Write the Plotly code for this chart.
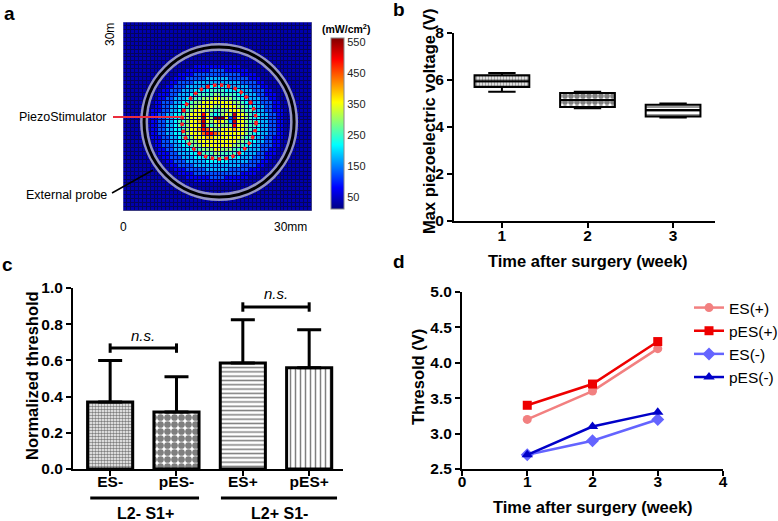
import plotly.graph_objects as go

FONT = "Liberation Sans, Arial, sans-serif"
W, H = 778, 521

# ---------------- Panel a: intensity map (48 x 48 cells, level codes)
HEAT_ROWS = [
    "000000000000000000000000000000000000000000000000",
    "000000000000000000000000000000000000000000000000",
    "000000000000000000000000000000000000000000000000",
    "000000000000000000000000000000000000000000000000",
    "000000000000000000000000000000000000000000000000",
    "000000000000000000000000000000000000000000000000",
    "000000000000000000000000000000000000000000000000",
    "000000000000000000000000000000000000000000000000",
    "000000000000000000000000000000000000000000000000",
    "000000000000000000000000000000000000000000000000",
    "000000000000000000000000000000000000000000000000",
    "000000000000000000111111111111000000000000000000",
    "000000000000000011111122221111110000000000000000",
    "000000000000001111222222222222111100000000000000",
    "000000000000011122222333333222221110000000000000",
    "000000000000112222333333333333222211000000000000",
    "000000000001122233333444444333332221100000000000",
    "000000000011222333444455554444333222110000000000",
    "000000000111223334455556655554433322111000000000",
    "000000000112233344556667766655443332211000000000",
    "000000001122233445667777777766544332221100000000",
    "000000001122334456677776677776654433221100000000",
    "000000011122334556777665566777655433221110000000",
    "00000001122334456777a7545676b7765443322110000000",
    "00000001122334456777b76ccc72b7765443322110000000",
    "00000001122334556778b7678763b7765543322110000000",
    "00000001122334556777b6567666a7765543322110000000",
    "00000001122334456778a976677787765443322110000000",
    "000000011223344567779aa9877777765443322110000000",
    "000000011122334556777887777777655433221110000000",
    "000000001122334456677777777776654433221100000000",
    "000000001122233445667777777766544332221100000000",
    "000000000112233344556667766655443332211000000000",
    "000000000111223334455556655554433322111000000000",
    "000000000011222333444455554444333222110000000000",
    "000000000001122233333444444333332221100000000000",
    "000000000000112222333333333333222211000000000000",
    "000000000000011122222333333222221110000000000000",
    "000000000000001111222222222222111100000000000000",
    "000000000000000011111122221111110000000000000000",
    "000000000000000000111111111111000000000000000000",
    "000000000000000000000000000000000000000000000000",
    "000000000000000000000000000000000000000000000000",
    "000000000000000000000000000000000000000000000000",
    "000000000000000000000000000000000000000000000000",
    "000000000000000000000000000000000000000000000000",
    "000000000000000000000000000000000000000000000000",
    "000000000000000000000000000000000000000000000000",
]
LEVEL_VALUES = {"0": 35, "1": 75, "2": 125, "3": 175, "4": 215, "5": 255, "6": 300,
                "7": 350, "8": 395, "9": 440, "a": 490, "b": 525, "c": 555}
CBAR_TICKS = [50, 150, 250, 350, 450, 550]
Z_MIN, Z_MAX = 11, 563

# ---------------- Panel b: box plot of max piezo voltage
B_WEEKS = [1, 2, 3]
B_Q1 = [5.70, 4.85, 4.45]
B_MED = [5.95, 5.15, 4.72]
B_Q3 = [6.20, 5.45, 4.95]
B_LO = [5.50, 4.80, 4.40]
B_HI = [6.30, 5.50, 5.00]

# ---------------- Panel c: normalized threshold bars
C_CATS = ["ES-", "pES-", "ES+", "pES+"]
C_MEAN = [0.37, 0.315, 0.585, 0.56]
C_SD = [0.23, 0.195, 0.24, 0.21]
C_SD_LOWER = [0, 0, 0, 0]
C_GROUPS = ["L2- S1+", "L2+ S1-"]
C_BRACKET_Y = [0.668, 0.895]

# ---------------- Panel d: threshold over time
D_WEEKS = [1, 2, 3]
D_NAMES = ["ES(+)", "pES(+)", "ES(-)", "pES(-)"]
D_ES_POS = [3.2, 3.6, 4.2]
D_PES_POS = [3.4, 3.7, 4.3]
D_ES_NEG = [2.7, 2.9, 3.2]
D_PES_NEG = [2.7, 3.1, 3.3]


def px(x):
    return x / W


def py(y):
    return 1 - y / H


for r in HEAT_ROWS:
    assert len(r) == 48, (len(r), r)
Z = [[LEVEL_VALUES[ch] for ch in row] for row in HEAT_ROWS]
NC = len(HEAT_ROWS[0])

JET = [[0, "rgb(0,0,131)"], [0.125, "rgb(0,0,255)"], [0.375, "rgb(0,255,255)"],
       [0.625, "rgb(255,255,0)"], [0.875, "rgb(255,0,0)"], [1, "rgb(128,0,0)"]]

fig = go.Figure()

fig.add_trace(go.Heatmap(
    z=Z, x=list(range(NC)), y=list(range(len(Z))), colorscale=JET, zmin=Z_MIN, zmax=Z_MAX,
    xgap=1, ygap=1, xaxis="x", yaxis="y", hoverinfo="skip",
    colorbar=dict(x=px(331), xanchor="left", y=py(209), yanchor="bottom",
                  len=171 / H, lenmode="fraction", thickness=13, thicknessmode="pixels",
                  xpad=0, ypad=0, outlinewidth=1, outlinecolor="#888",
                  tickvals=CBAR_TICKS, ticks="", ticklen=2,
                  tickfont=dict(size=11, family=FONT, color="#222")),
))

AX_COMMON = dict(showline=True, linecolor="black", linewidth=2, ticks="outside",
                 ticklen=5, tickwidth=2, tickcolor="black", showgrid=False, zeroline=False,
                 tickfont=dict(size=15.5, family=FONT, color="black", weight="bold"))

# Panel b: pattern fill (bars) + box outlines
fig.add_trace(go.Bar(
    x=B_WEEKS, y=[h - l for h, l in zip(B_Q3, B_Q1)], base=B_Q1, width=0.64,
    xaxis="x2", yaxis="y2", showlegend=False, hoverinfo="skip",
    marker=dict(color="white", line=dict(width=0),
                pattern=dict(shape=[".", ".", "-"], size=[3, 6, 4], solidity=[0.5, 0.7, 0.4],
                             fgcolor="black", bgcolor="white")),
))
fig.add_trace(go.Box(
    x=B_WEEKS, q1=B_Q1, median=B_MED, q3=B_Q3, lowerfence=B_LO, upperfence=B_HI,
    width=0.64, whiskerwidth=0.5, fillcolor="rgba(0,0,0,0)", boxpoints=False,
    line=dict(color="black", width=2), xaxis="x2", yaxis="y2", showlegend=False, hoverinfo="skip",
))

# Panel c
fig.add_trace(go.Bar(
    x=C_CATS, y=C_MEAN, width=0.68, xaxis="x3", yaxis="y3", showlegend=False, hoverinfo="skip",
    error_y=dict(type="data", symmetric=False, array=C_SD, arrayminus=C_SD_LOWER,
                 color="black", thickness=3, width=12),
    marker=dict(color="white", line=dict(color="black", width=3),
                pattern=dict(shape=[".", ".", "-", "|"], size=[3, 7, 4.3, 5],
                             solidity=[0.55, 0.72, 0.35, 0.3], fgcolor="black", bgcolor="white")),
))

# Panel d
D_STYLE = [
    ("rgb(242,128,128)", "circle", 9),
    ("rgb(238,0,0)", "square", 9),
    ("rgb(100,100,255)", "diamond", 10),
    ("rgb(0,0,200)", "triangle-up", 10),
]
for name, ys, (col, sym, sz) in zip(D_NAMES, [D_ES_POS, D_PES_POS, D_ES_NEG, D_PES_NEG], D_STYLE):
    fig.add_trace(go.Scatter(
        x=D_WEEKS, y=ys, name=name, mode="lines+markers", xaxis="x4", yaxis="y4",
        line=dict(color=col, width=2.5), marker=dict(color=col, symbol=sym, size=sz),
    ))

shapes = []
# heatmap gap background and overlays
shapes.append(dict(type="rect", xref="x", yref="y", x0=-0.5, x1=NC - 0.5, y0=-0.5, y1=len(Z) - 0.5,
                   fillcolor="rgb(5,5,90)", line=dict(width=0), layer="below"))
cx, cy = 23.9, 24.9
R_OUT, R_IN = 19.05, 9.4
shapes.append(dict(type="circle", xref="x", yref="y", x0=cx - R_OUT, x1=cx + R_OUT,
                   y0=cy - R_OUT, y1=cy + R_OUT, line=dict(color="rgba(175,175,205,0.85)", width=8)))
shapes.append(dict(type="circle", xref="x", yref="y", x0=cx - R_OUT, x1=cx + R_OUT,
                   y0=cy - R_OUT, y1=cy + R_OUT, line=dict(color="black", width=3)))
shapes.append(dict(type="circle", xref="x", yref="y", x0=cx - R_IN, x1=cx + R_IN,
                   y0=cy - R_IN, y1=cy + R_IN, line=dict(color="rgb(255,30,30)", width=3.5, dash="dot")))
shapes.append(dict(type="rect", xref="x", yref="y", x0=-0.5, x1=NC - 0.5, y0=-0.5, y1=len(Z) - 0.5,
                   line=dict(color="rgba(150,150,190,0.8)", width=1)))
shapes.append(dict(type="line", xref="paper", yref="paper", x0=px(113), x1=px(181), y0=py(117), y1=py(117),
                   line=dict(color="rgb(235,45,60)", width=2)))
shapes.append(dict(type="line", xref="paper", yref="paper", x0=px(112), x1=px(153), y0=py(193), y1=py(170),
                   line=dict(color="black", width=1.5)))

# Panel c brackets
for i, by in enumerate(C_BRACKET_Y):
    xa, xb = 2 * i, 2 * i + 1
    shapes.append(dict(type="line", xref="x3", yref="y3", x0=xa, x1=xb, y0=by, y1=by,
                       line=dict(color="black", width=3)))
    for xe in (xa, xb):
        shapes.append(dict(type="line", xref="x3", yref="y3", x0=xe, x1=xe, y0=by - 0.026, y1=by + 0.026,
                           line=dict(color="black", width=3)))
# group underlines
for x0, x1 in [(-0.30, 1.34), (1.67, 3.42)]:
    shapes.append(dict(type="line", xref="x3", yref="paper", x0=x0, x1=x1, y0=py(498), y1=py(498),
                       line=dict(color="black", width=3)))

annotations = []


def ann(text, x, y, size, bold=False, angle=0, xanchor="center", color="black"):
    annotations.append(dict(text=text, x=px(x), y=py(y), xref="paper", yref="paper",
                            xanchor=xanchor, yanchor="middle", showarrow=False, textangle=angle,
                            font=dict(size=size, family=FONT, color=color,
                                      weight="bold" if bold else "normal")))


ann("a", 9, 14, 19, True)
ann("b", 399, 10, 19, True)
ann("c", 8, 264, 19, True)
ann("d", 399, 261, 19, True)
ann("(mW/cm<sup>2</sup>)", 346, 29, 10.5, True)
ann("PiezoStimulator", 109, 117, 12.5, xanchor="right")
ann("External probe", 109, 195, 12.5, xanchor="right")
ann("0", 123, 227, 12)
ann("30mm", 290, 227, 12)
ann("30m", 110, 35, 12, angle=-90)
ann("Max piezoelectric voltage (V)", 429, 121, 16.5, True, angle=-90)
ann("Time after surgery (week)", 588, 261, 16.5, True)
ann("Normalized threshold", 32, 376, 16.5, True, angle=-90)
ann("Thresold (V)", 418, 377, 16.5, True, angle=-90)
ann("Time after surgery (week)", 593, 507, 16.5, True)
for i, by in enumerate(C_BRACKET_Y):
    annotations.append(dict(text="<i>n.s.</i>", x=2 * i + 0.5, y=by + 0.072, xref="x3", yref="y3",
                            showarrow=False, xanchor="center", yanchor="middle",
                            font=dict(size=15, family=FONT, color="black")))
for i, g in enumerate(C_GROUPS):
    annotations.append(dict(text=g, x=[0.53, 2.55][i], y=py(513), xref="x3", yref="paper",
                            showarrow=False, xanchor="center", yanchor="middle",
                            font=dict(size=16, family=FONT, color="black", weight="bold")))

fig.update_layout(
    width=W, height=H, margin=dict(l=0, r=0, t=0, b=0, autoexpand=False),
    paper_bgcolor="white", plot_bgcolor="white",
    font=dict(family=FONT, color="black"),
    shapes=shapes, annotations=annotations,
    xaxis=dict(domain=[px(123), px(312)], range=[-0.5, NC - 0.5], visible=False, anchor="y"),
    yaxis=dict(domain=[py(211), py(22)], range=[len(Z) - 0.5, -0.5], visible=False, anchor="x"),
    xaxis2=dict(domain=[px(454), px(715)], range=[0.44, 3.49], tickvals=B_WEEKS, anchor="y2",
                ticklabelstandoff=-6, **AX_COMMON),
    yaxis2=dict(domain=[py(221), py(33)], range=[0, 8], dtick=2, anchor="x2", **AX_COMMON),
    xaxis3=dict(domain=[px(73), px(343)], range=[-0.56, 3.51], type="category", anchor="y3",
                ticklabelstandoff=-8, **AX_COMMON),
    yaxis3=dict(domain=[py(469), py(288)], range=[0, 1.0], dtick=0.2, tickformat=".1f", anchor="x3", **AX_COMMON),
    xaxis4=dict(domain=[px(462), px(723)], range=[0, 4], dtick=1, anchor="y4",
                ticklabelstandoff=-8, **AX_COMMON),
    yaxis4=dict(domain=[py(469), py(292)], range=[2.5, 5.0], dtick=0.5, tickformat=".1f", anchor="x4", **AX_COMMON),
    legend=dict(x=px(689), y=py(291), xanchor="left", yanchor="top", bgcolor="rgba(0,0,0,0)",
                font=dict(size=15.5, family=FONT, color="black"), tracegroupgap=0, itemwidth=30),
    showlegend=True,
)

fig.write_html("out.html", config={"displayModeBar": False},
               post_script="document.body.style.margin='0';document.body.style.overflow='hidden';")
